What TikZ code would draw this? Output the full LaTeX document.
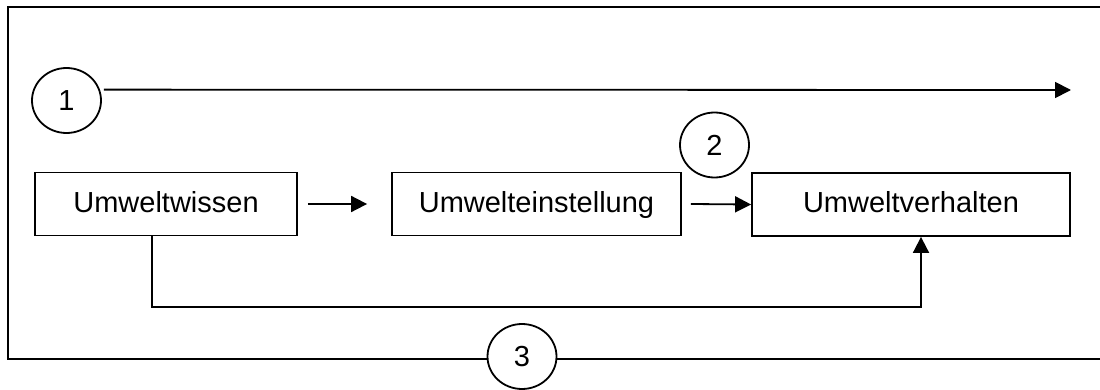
\documentclass[tikz,border=0pt]{standalone}
\usepackage{fontspec}
\setmainfont{Liberation Sans}
\usetikzlibrary{arrows.meta,shapes.geometric}
\begin{document}
\begin{tikzpicture}[x=1pt,y=-1pt,
  line width=1.8pt,
  every node/.style={font=\fontsize{29}{34}\selectfont},
  box/.style={draw,rectangle,inner sep=0pt,minimum height=63pt,text height=21pt,text depth=5pt},
  num/.style={draw,ellipse,inner sep=0pt,minimum width=69pt,minimum height=65pt,fill=white},
  arr/.style={-{Triangle[length=16pt,width=16pt]}}]
\useasboundingbox (0,0) rectangle (1100,390);

% outer frame, open on the right
\draw (1100,7) -- (8,7) -- (8,359) -- (1100,359);

% the three constructs
\node[box,minimum width=262pt] (b1) at (166,204) {Umweltwissen};
\node[box,minimum width=289pt] (b2) at (536.5,204) {Umwelteinstellung};
\node[box,minimum width=318pt] (b3) at (911,204.5) {Umweltverhalten};

% numbered markers
\node[num] (c1) at (66.5,100.5) {1};
\node[num] (c2) at (714.5,145) {2};
\node[num] (c3) at (522,356.5) {3};

\coordinate (e1) at (1071,90);
\coordinate (fb) at (0,307);

% connectors
\draw[arr] ([xshift=4pt]c1.18) -- (e1);
\draw[arr] ([xshift=10pt]b1.east) -- ([xshift=-24pt]b2.west);
\draw[arr] ([xshift=9pt]b2.east) -- (b3.west);
\draw[arr] ([xshift=-14pt]b1.south) |- ([xshift=10pt]b3.south |- fb) -- ([xshift=10pt]b3.south);
\end{tikzpicture}
\end{document}
